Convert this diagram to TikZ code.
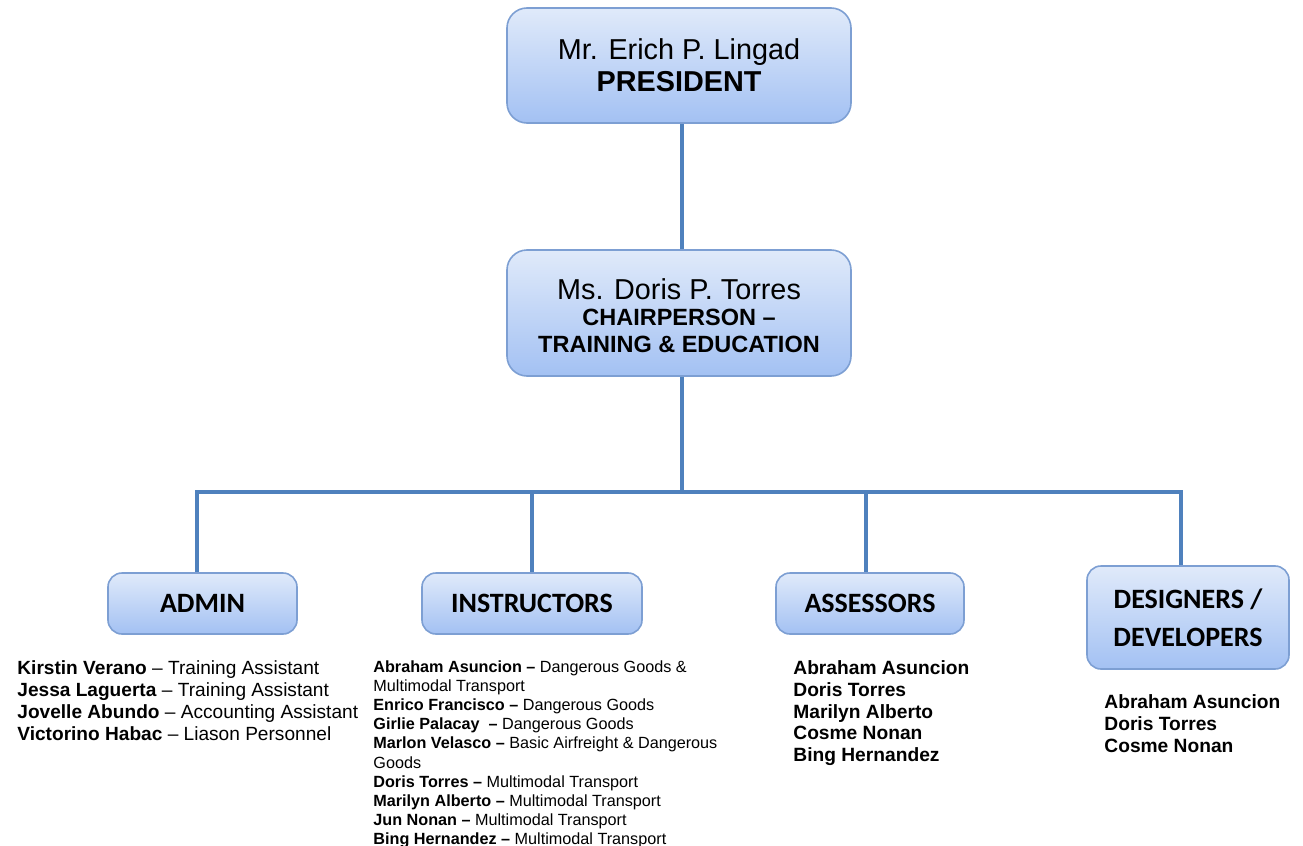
\documentclass[tikz,border=0pt]{standalone}
\usepackage{fontspec}
\setmainfont{Liberation Sans}
\newfontfamily\calib{Carlito}
\usetikzlibrary{calc}
\definecolor{boxtop}{HTML}{E0EAFA}
\definecolor{boxbot}{HTML}{A3C1F3}
\definecolor{boxrim}{HTML}{7D9FD3}
\definecolor{linc}{HTML}{4F81BD}

\begin{document}
\begin{tikzpicture}
      [x=.5pt,y=-.5pt
      ,box/.style={draw=boxrim,line width=.8pt,top color=boxtop,bottom color=boxbot,inner sep=0,align=center}
      ,big/.style={box,rounded corners=10pt,minimum width=172pt,font=\fontsize{14.4}{16}\selectfont}
      ,grp/.style={box,rounded corners=7pt,minimum height=30.5pt,font=\calib\bfseries\fontsize{14}{19}\selectfont}
      ,lst/.style={anchor=north west,inner sep=0,align=left}
      ,lin/.style={color=linc,line width=2.2pt}]
        \useasboundingbox (0,0) rectangle (1303,846);
        % top of the chart
        \node[big,minimum height=57.5pt] (pres) at (679,65.5)
              {Mr. Erich P. Lingad\\\textbf{PRESIDENT}};
        \node[big,minimum height=63pt,font=\fontsize{11.75}{13.75}\selectfont\bfseries] (chair) at (679,313)
              {{\fontsize{14.4}{14}\selectfont\mdseries\rule{0pt}{13.6pt}Ms. Doris P. Torres}\\[-1pt]CHAIRPERSON --\\TRAINING \& EDUCATION};
        % the four groups
        \node[grp,minimum width=94.5pt] (admin)  at (202.5,603.5) {ADMIN};
        \node[grp,minimum width=110pt]  (instr)  at (532,603.5)   {INSTRUCTORS};
        \node[grp,minimum width=94pt]   (assess) at (870,603.5)   {ASSESSORS};
        \node[grp,minimum width=101pt,minimum height=51.5pt] (design) at (1188,617.5) {DESIGNERS /\\DEVELOPERS};
        % connectors
        \coordinate (bus) at (682,492);
        \draw[lin] ([xshift=1.5pt]pres.south) -- ([xshift=1.5pt]chair.north);
        \draw[lin] ([xshift=1.5pt]chair.south) -- (bus);
        \foreach \grp/\dx in {admin/-2.8,instr/0,assess/-2,design/-3.5}{
          \draw[lin] (bus) -| ([xshift=\dx pt]\grp.north);
        }
        % names under each group
        \node[lst,font=\fontsize{9.55}{11}\selectfont] (adminlst) at (17,660)
              {\textbf{Kirstin Verano} -- Training Assistant\\
               \textbf{Jessa Laguerta} -- Training Assistant\\
               \textbf{Jovelle Abundo} -- Accounting Assistant\\
               \textbf{Victorino Habac} -- Liason Personnel};
        \node[lst,font=\fontsize{8.1}{9.6}\selectfont] (instrlst) at (373,660)
              {\textbf{Abraham Asuncion --} Dangerous Goods \&\\
               Multimodal Transport\\
               \textbf{Enrico Francisco --} Dangerous Goods\\
               \textbf{Girlie Palacay\ \ --} Dangerous Goods\\
               \textbf{Marlon Velasco --} Basic Airfreight \& Dangerous\\
               Goods\\
               \textbf{Doris Torres --} Multimodal Transport\\
               \textbf{Marilyn Alberto --} Multimodal Transport\\
               \textbf{Jun Nonan --} Multimodal Transport\\
               \textbf{Bing Hernandez --} Multimodal Transport};
        \node[lst,font=\fontsize{9.6}{10.85}\selectfont\bfseries] (assesslst) at (793,660.5)
              {Abraham Asuncion\\Doris Torres\\Marilyn Alberto\\Cosme Nonan\\Bing Hernandez};
        \node[lst,font=\fontsize{9.6}{11}\selectfont\bfseries] (designlst) at (1104,694)
              {Abraham Asuncion\\Doris Torres\\Cosme Nonan};
      \end{tikzpicture}
\end{document}
